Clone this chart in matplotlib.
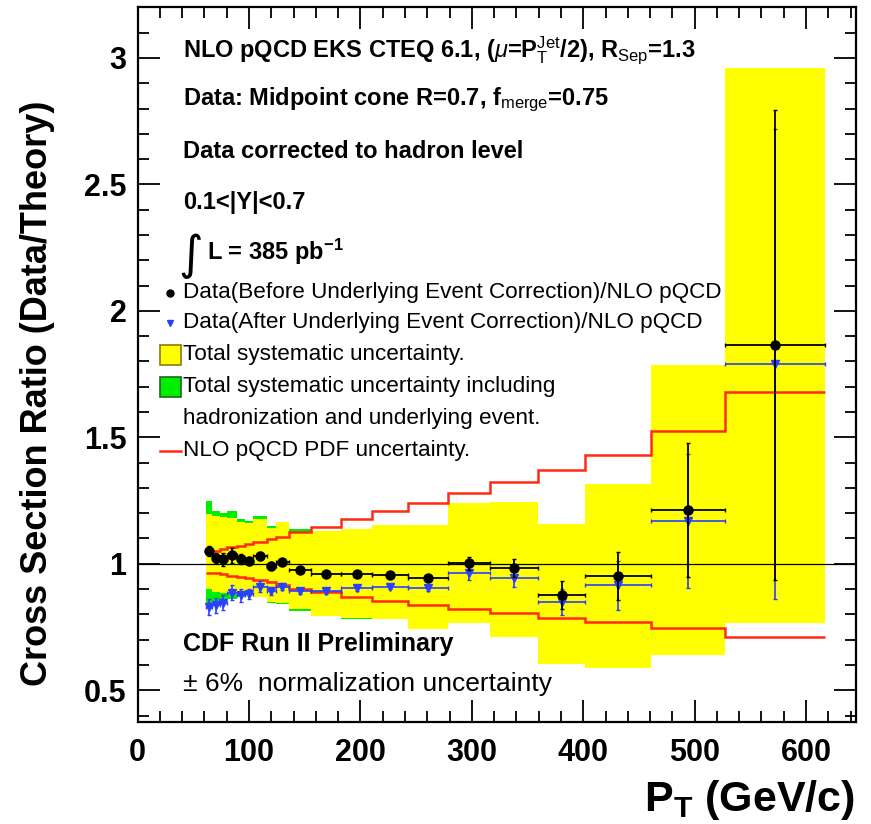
import numpy as np
import matplotlib
matplotlib.use('Agg')
import matplotlib.pyplot as plt
from matplotlib.patches import Rectangle
from matplotlib.ticker import MultipleLocator, FormatStrFormatter

plt.rcParams['font.family'] = ['Liberation Sans', 'DejaVu Sans']
plt.rcParams['mathtext.fontset'] = 'custom'
plt.rcParams['mathtext.rm'] = 'Liberation Sans'
plt.rcParams['mathtext.bf'] = 'Liberation Sans:bold'
plt.rcParams['mathtext.it'] = 'Liberation Sans:italic'

# pT bins (GeV/c)
edges = np.array([61, 67, 74, 80, 89, 96, 104, 116, 124, 136, 156, 183, 210,
                  243, 279, 316, 359, 402, 461, 527, 617])

# data / theory before and after underlying event correction
ratio_before = [1.051, 1.024, 1.018, 1.034, 1.018, 1.011, 1.031, 0.991, 1.007,
                0.974, 0.961, 0.961, 0.957, 0.945, 1.002, 0.982, 0.877, 0.952,
                1.212, 1.864]
err_before = [0.02, 0.02, 0.025, 0.03, 0.02, 0.015, 0.015, 0.015, 0.012, 0.01,
              0.01, 0.01, 0.012, 0.012, 0.025, 0.035, 0.055, 0.095, 0.265, 0.93]
ratio_after = [0.829, 0.836, 0.846, 0.886, 0.875, 0.879, 0.91, 0.892, 0.91,
               0.892, 0.892, 0.903, 0.91, 0.903, 0.962, 0.943, 0.849, 0.915,
               1.17, 1.79]
err_after = [0.03, 0.03, 0.03, 0.03, 0.025, 0.02, 0.02, 0.015, 0.015, 0.012,
             0.012, 0.01, 0.01, 0.012, 0.027, 0.035, 0.052, 0.097, 0.265, 0.93]

# total systematic band
syst_hi = [1.196, 1.19, 1.185, 1.18, 1.166, 1.163, 1.179, 1.143, 1.166, 1.125,
           1.13, 1.139, 1.152, 1.152, 1.242, 1.246, 1.159, 1.315, 1.786, 2.96]
syst_lo = [0.899, 0.89, 0.885, 0.88, 0.875, 0.87, 0.868, 0.85, 0.845, 0.82,
           0.795, 0.787, 0.78, 0.741, 0.765, 0.712, 0.602, 0.589, 0.638, 0.765]
# including hadronization and underlying event
had_hi = [1.249, 1.209, 1.199, 1.209, 1.179, 1.17, 1.187, 1.15, 1.166, 1.137,
          1.13, 1.139, 1.152, 1.152, 1.242, 1.246, 1.159, 1.315, 1.786, 2.96]
had_lo = [0.846, 0.853, 0.859, 0.862, 0.87, 0.87, 0.872, 0.844, 0.84, 0.813,
          0.793, 0.78, 0.78, 0.741, 0.765, 0.712, 0.602, 0.589, 0.638, 0.765]

# PDF uncertainty of the NLO prediction
pdf_hi = [1.04, 1.05, 1.058, 1.065, 1.072, 1.08, 1.088, 1.097, 1.107, 1.124,
          1.147, 1.176, 1.207, 1.241, 1.28, 1.322, 1.37, 1.43, 1.526, 1.678]
pdf_lo = [0.965, 0.962, 0.958, 0.953, 0.948, 0.942, 0.935, 0.928, 0.918, 0.902,
          0.888, 0.87, 0.853, 0.836, 0.82, 0.807, 0.787, 0.768, 0.745, 0.709]

centers = 0.5 * (edges[1:] + edges[:-1])
half_w = 0.5 * np.diff(edges)

fig = plt.figure(figsize=(8.71, 8.24), dpi=100)
ax = fig.add_axes([0.158, 0.124, 0.825, 0.867])

ax.stairs(had_hi, edges, baseline=had_lo, fill=True, color='#00ee00', lw=0)
ax.stairs(syst_hi, edges, baseline=syst_lo, fill=True, color='#ffff00', lw=0)
ax.axhline(1.0, color='black', lw=0.9)
ax.stairs(pdf_hi, edges, baseline=None, color='#ff2a10', lw=1.8)
ax.stairs(pdf_lo, edges, baseline=None, color='#ff2a10', lw=1.8)

ax.errorbar(centers, ratio_after, yerr=err_after, xerr=half_w, fmt='v',
            color='#2a40ff', ms=6, elinewidth=1.2, capsize=1.5, zorder=4)
ax.errorbar(centers, ratio_before, yerr=err_before, xerr=half_w, fmt='o',
            color='black', ms=6.5, elinewidth=1.3, capsize=1.5, zorder=5)

ax.set_xlim(0, 645)
ax.set_ylim(0.375, 3.2)
ax.xaxis.set_major_locator(MultipleLocator(100))
ax.xaxis.set_minor_locator(MultipleLocator(20))
ax.yaxis.set_major_locator(MultipleLocator(0.5))
ax.yaxis.set_minor_locator(MultipleLocator(0.1))
ax.yaxis.set_major_formatter(FormatStrFormatter('%g'))
ax.tick_params(which='both', direction='in', top=True, right=True, width=1.3)
ax.tick_params(which='major', length=16, labelsize=22)
ax.tick_params(axis='x', which='major', pad=12)
ax.tick_params(axis='y', which='major', pad=8)
ax.tick_params(which='minor', length=8)
for lab in ax.get_xticklabels() + ax.get_yticklabels():
    lab.set_fontweight('bold')
for sp in ax.spines.values():
    sp.set_linewidth(1.6)

ax.set_ylabel('Cross Section Ratio (Data/Theory)', fontsize=26,
              fontweight='bold', va='center')
ax.yaxis.set_label_coords(-0.14, 0.46)
ax.set_xlabel(r'P$_\mathbf{T}$ (GeV/c)', fontsize=31, fontweight='bold',
              ha='right', va='center')
ax.xaxis.set_label_coords(0.999, -0.11)

tx = 0.063
head = dict(transform=ax.transAxes, fontsize=17, fontweight='bold',
            va='center', ha='left')
ax.text(tx, 0.9405, r'NLO pQCD EKS CTEQ 6.1, ($\mu$=P$_\mathrm{T}^\mathrm{Jet}$/2), '
        r'R$_\mathrm{Sep}$=1.3', **head)
ax.text(tx, 0.8705, r'Data: Midpoint cone R=0.7, f$_\mathrm{merge}$=0.75', **head)
ax.text(tx, 0.7978, 'Data corrected to hadron level', **head)
ax.text(tx, 0.7264, '0.1<|Y|<0.7', **head)
ax.text(tx - 0.006, 0.652, '\u222b', transform=ax.transAxes, fontsize=34,
        va='center', ha='left', family='DejaVu Sans')
ax.text(0.096, 0.6578, r'L = 385 pb$^\mathbf{-1}$', **head)

leg = dict(transform=ax.transAxes, fontsize=16.2, va='center', ha='left')
ax.plot([0.045], [0.6004], 'o', color='black', ms=5, transform=ax.transAxes)
ax.text(tx, 0.6004, 'Data(Before Underlying Event Correction)/NLO pQCD', **leg)
ax.plot([0.045], [0.5584], 'v', color='#2a40ff', ms=5, transform=ax.transAxes)
ax.text(tx, 0.5584, 'Data(After Underlying Event Correction)/NLO pQCD', **leg)
ax.add_patch(Rectangle((0.031, 0.4995), 0.029, 0.028, transform=ax.transAxes,
                       facecolor='#ffff00', edgecolor='#8a7a10', lw=1.2))
ax.text(tx, 0.5136, 'Total systematic uncertainty.', **leg)
ax.add_patch(Rectangle((0.031, 0.4548), 0.029, 0.028, transform=ax.transAxes,
                       facecolor='#00ee00', edgecolor='#1a6a1a', lw=1.2))
ax.text(tx, 0.4689, 'Total systematic uncertainty including', **leg)
ax.text(tx, 0.4241, 'hadronization and underlying event.', **leg)
ax.plot([0.031, 0.060], [0.3793, 0.3793], color='#ff2a10', lw=1.8,
        transform=ax.transAxes)
ax.text(tx, 0.3793, 'NLO pQCD PDF uncertainty.', **leg)

ax.text(tx, 0.1092, 'CDF Run II Preliminary', transform=ax.transAxes,
        fontsize=18, fontweight='bold', va='center', ha='left')
ax.text(tx, 0.0532, '\u00b1 6%  normalization uncertainty', transform=ax.transAxes,
        fontsize=19, va='center', ha='left')

fig.savefig('out.png', dpi=100)
